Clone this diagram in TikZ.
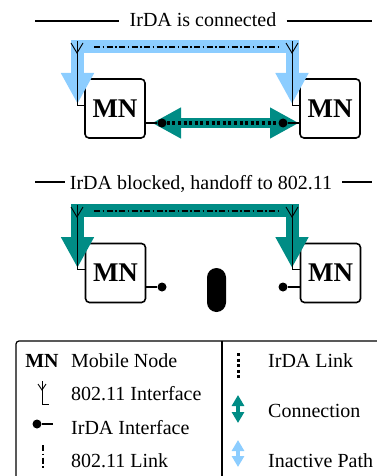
\documentclass[tikz,border=0pt]{standalone}
\usepackage{fontspec}
\setmainfont{Liberation Serif}
\usetikzlibrary{arrows.meta}
\definecolor{inactive}{RGB}{140,205,255}
\definecolor{active}{RGB}{0,140,133}
\begin{document}
\begin{tikzpicture}[x=1pt,y=-1pt,
  txt/.style={font=\fontsize{20}{24}\selectfont,inner sep=0pt},
  mn/.style={draw,line width=1.6pt,rounded corners=4pt,minimum width=60pt,
    minimum height=59pt,inner sep=0pt,font=\fontsize{27}{30}\selectfont\bfseries},
  rule/.style={line width=1.4pt},
  widepath/.style={line width=13pt,line join=miter,
    {Triangle[length=31pt,width=31pt]}-{Triangle[length=31pt,width=31pt]}},
  conn/.style={active,line width=9pt,
    {Triangle[length=29pt,width=29pt]}-{Triangle[length=29pt,width=29pt]}},
  ant/.style={line width=0.9pt},
  wifi/.style={line width=1.3pt,dash pattern=on 6pt off 2.5pt on 1.5pt off 2.5pt},
  irlink/.style={line width=3pt,dash pattern=on 3pt off 2.6pt},
  irport/.style={line width=1.2pt},
  dot/.style={circle,fill,inner sep=0pt,minimum size=9pt},
  keyarrow/.style={line width=4.5pt,
    {Triangle[length=11pt,width=12pt]}-{Triangle[length=11pt,width=12pt]}},
]
\useasboundingbox (0,0) rectangle (376,476);

% ---------- upper scenario: IrDA connected ----------
\node[txt,anchor=base] (t1) at (203,27) {IrDA is connected};
\coordinate (t1a) at (35,21);
\coordinate (t1b) at (372,21);
\draw[rule] (t1a) -- ([xshift=-10pt]t1a -| t1.west);
\draw[rule] ([xshift=10pt]t1b -| t1.east) -- (t1b);

\node[mn] (mn1) at (115,108.5) {MN};
\node[mn] (mn2) at (330,108.5) {MN};

\coordinate (lt1) at (77.5,104);
\coordinate (rt1) at (292,104);
\coordinate (band1) at (180,47);
\draw[widepath,inactive] (lt1) -- (lt1 |- band1) -| (rt1);

% 802.11 antennas
\coordinate (af1) at (77,105);
\coordinate (af2) at (292,105);
\draw[ant] (77,41) -- (af1) -- (af1 -| mn1.west);
\draw[ant] (71,43) -- (77,53) -- (83,43);
\draw[ant] (292,41) -- (af2) -- (af2 -| mn2.west);
\draw[ant] (286,43) -- (292,53) -- (298,43);
\draw[wifi] (94,47) -- (280,47);

% IrDA connection
\node[dot] (d1) at (162,123) {};
\node[dot] (d2) at (283,123) {};
\draw[conn] (152,123) -- (299,123);
\draw[irport] (mn1.east |- d1) -- (d1);
\draw[irport] (mn2.west |- d2) -- (d2);
\draw[irlink] (d1) -- (d2);
\node[dot] at (d1) {};
\node[dot] at (d2) {};

% ---------- lower scenario: IrDA blocked ----------
\node[txt,anchor=base] (t2) at (201,189) {IrDA blocked, handoff to 802.11};
\coordinate (t2a) at (35,182);
\coordinate (t2b) at (372,182);
\draw[rule] (t2a) -- ([xshift=-5pt]t2a -| t2.west);
\draw[rule] ([xshift=10pt]t2b -| t2.east) -- (t2b);

\node[mn] (mn3) at (115.5,273) {MN};
\node[mn] (mn4) at (330.5,273) {MN};

\coordinate (lt2) at (77.5,268);
\coordinate (rt2) at (292,268);
\coordinate (band2) at (180,210);
\draw[widepath,active] (lt2) -- (lt2 |- band2) -| (rt2);

\coordinate (af3) at (77,269);
\coordinate (af4) at (292,269);
\draw[ant] (77,205) -- (af3) -- (af3 -| mn3.west);
\draw[ant] (71,207) -- (77,217) -- (83,207);
\draw[ant] (292,205) -- (af4) -- (af4 -| mn4.west);
\draw[ant] (286,207) -- (292,217) -- (298,207);
\draw[wifi] (94,211) -- (280,211);

\node[dot] (d3) at (162,287) {};
\node[dot] (d4) at (283,287) {};
\draw[irport] (mn3.east |- d3) -- (d3);
\draw[irport] (mn4.west |- d4) -- (d4);

% obstacle between the IrDA ports
\node[fill,minimum width=19pt,minimum height=44pt,rounded corners=9.5pt,
  inner sep=0pt] (wall) at (216.5,290) {};

% ---------- key ----------
\draw[line width=1.2pt,rounded corners=3pt] (16,490) -- (16,341) -- (390,341);
\draw[line width=1.2pt] (222,341) -- (222,490);

\node[txt,font=\fontsize{20}{24}\selectfont\bfseries,anchor=base] (kmn) at (42,367) {MN};
\node[txt,anchor=base west] (k1) at (71,367) {Mobile Node};

\coordinate (kaf) at (42,404);
\draw[ant] (42,381) -- (kaf) -- ++(7,0);
\draw[ant] (38,384) -- (42,390) -- (46,384);
\node[txt,anchor=base west] (k2) at (71,400) {802.11 Interface};

\node[dot] (kd) at (37,424) {};
\draw[irport,line width=1.5pt] (kd) -- ++(16,0);
\node[txt,anchor=base west] (k3) at (71,434) {IrDA Interface};

\draw[line width=1.1pt,dash pattern=on 6pt off 2.5pt on 1.5pt off 2.5pt] (43,445) -- (43,468);
\node[txt,anchor=base west] (k4) at (71,467) {802.11 Link};

\draw[irlink] (238,353) -- (238,379);
\node[txt,anchor=base west] (k5) at (268,367) {IrDA Link};

\draw[keyarrow,active] (238,395) -- (238,423);
\node[txt,anchor=base west] (k6) at (268,417) {Connection};

\draw[keyarrow,inactive] (238,440) -- (238,467);
\node[txt,anchor=base west] (k7) at (268,467) {Inactive Path};
\end{tikzpicture}
\end{document}
